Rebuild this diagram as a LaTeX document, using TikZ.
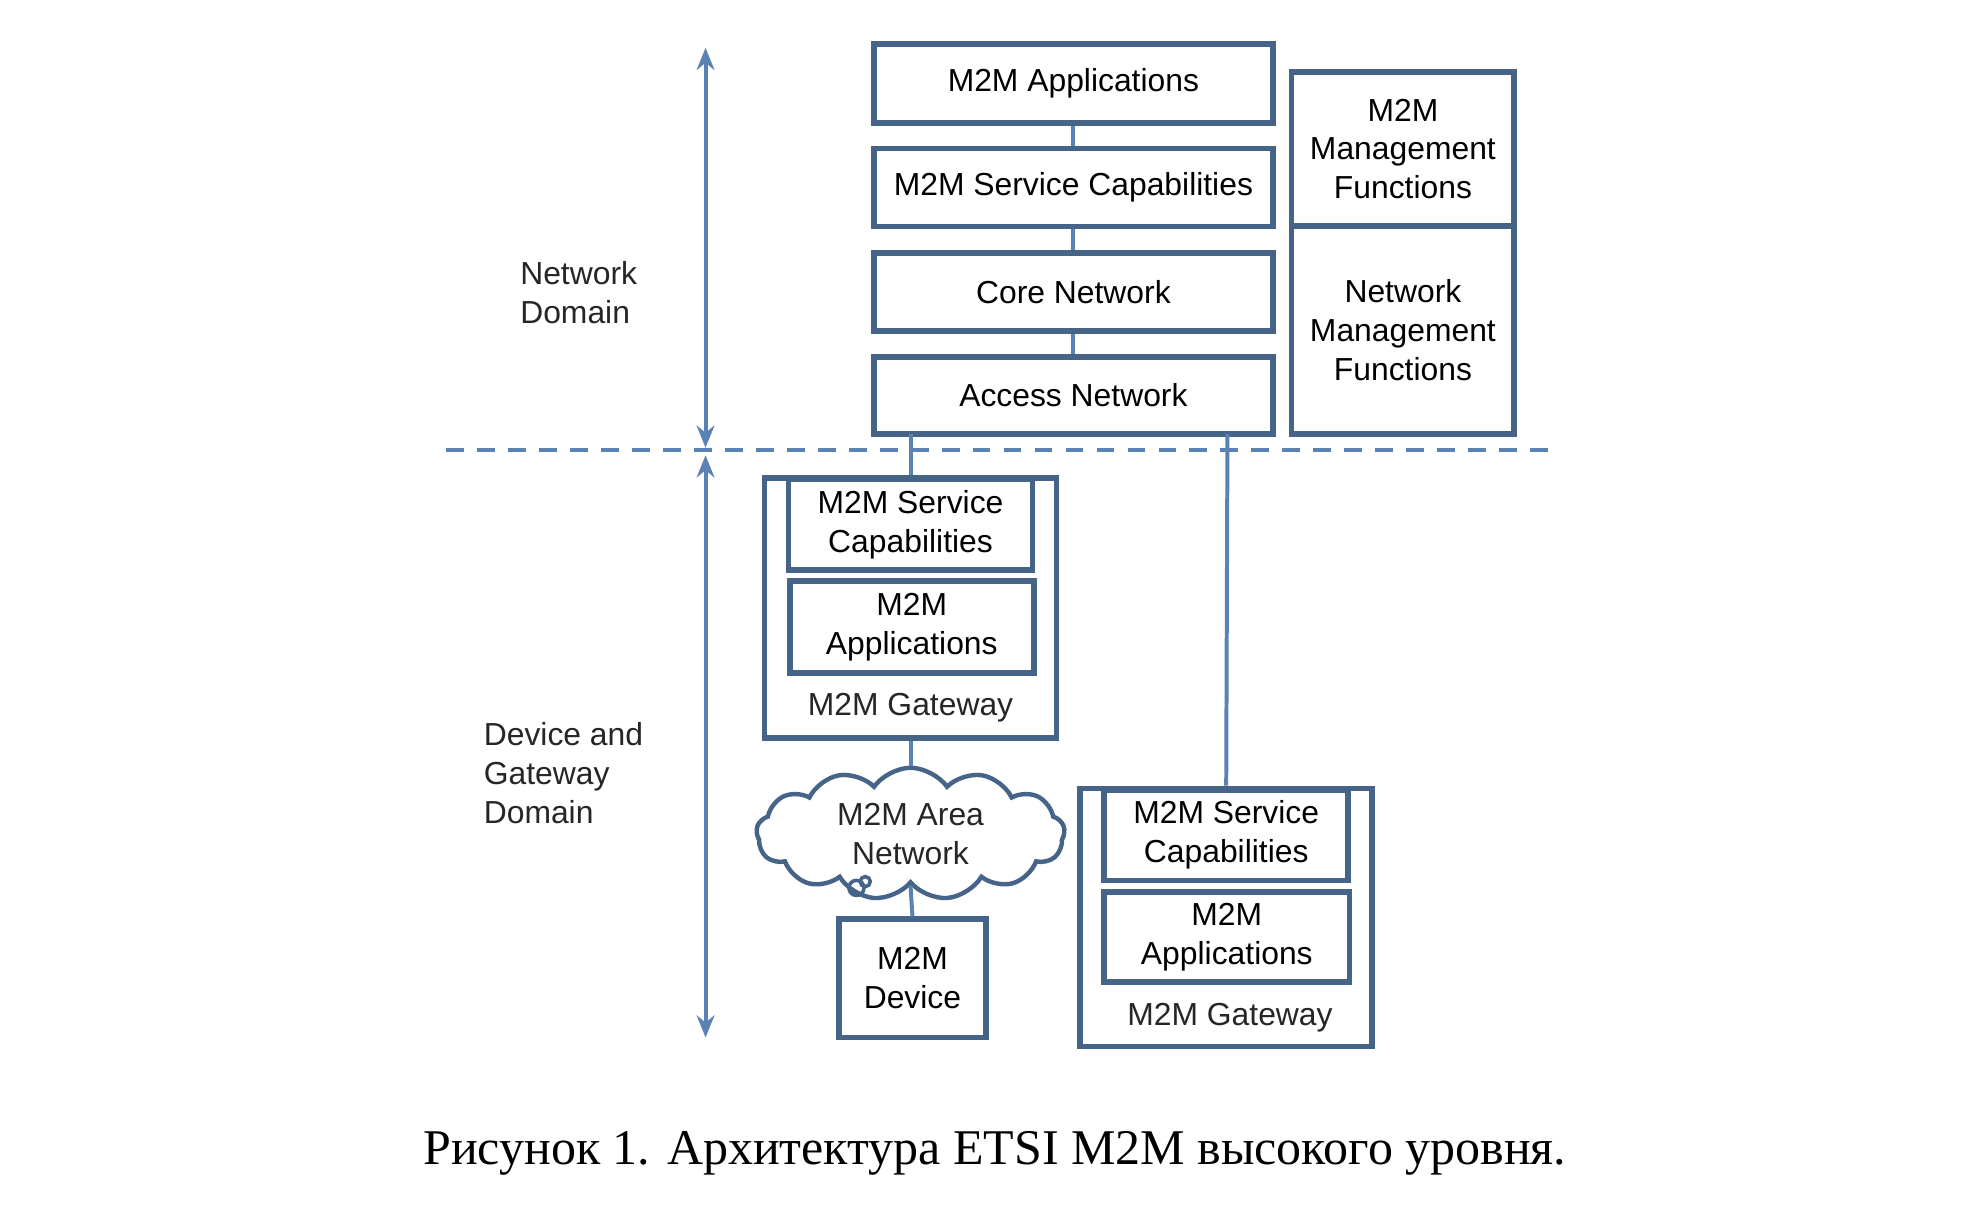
\documentclass[tikz,border=0pt]{standalone}
\usepackage{fontspec}
\setmainfont{Liberation Serif}
\newfontfamily\diag{Liberation Sans}
\usetikzlibrary{shapes.symbols,arrows.meta}
\definecolor{bx}{RGB}{70,100,135}
\definecolor{ln}{RGB}{90,130,180}
\begin{document}
\begin{tikzpicture}[x=0.01cm,y=-0.01cm,
  box/.style={draw=bx,line width=1.3pt,inner sep=0pt,font=\diag\fontsize{7.2}{8.8}\selectfont,align=center},
  txt/.style={font=\diag\fontsize{7.2}{8.8}\selectfont,text=black!85,align=center},
  con/.style={draw=ln,line width=0.9pt}]
\useasboundingbox (0,0) rectangle (1568,976);
\fill[white] (0,0) rectangle (1568,976);
% domain arrows and divider
\coordinate (a1) at (561,38); \coordinate (a2) at (561,356);
\coordinate (a3) at (561,362); \coordinate (a4) at (561,825);
\draw[con,{Stealth[length=5pt,width=4pt]}-{Stealth[length=5pt,width=4pt]}] (a1) -- (a2);
\draw[con,{Stealth[length=5pt,width=4pt]}-{Stealth[length=5pt,width=4pt]}] (a3) -- (a4);
\coordinate (d1) at (355,358); \coordinate (d2) at (1240,358);
\draw[con,dashed,dash pattern=on 4pt off 3pt] (d1) -- (d2);
\node[txt,align=left,anchor=west,inner sep=0pt] (nd) at (413,233) {Network\\Domain};
\node[txt,align=left,anchor=west,inner sep=0pt] (dd) at (384,615) {Device and\\Gateway\\Domain};
% network stack
\node[box,minimum width=3.17cm,minimum height=0.63cm] (app) at (853.5,66.5) {M2M Applications};
\node[box,minimum width=3.17cm,minimum height=0.62cm] (sc) at (853.5,149) {M2M Service Capabilities};
\node[box,minimum width=3.17cm,minimum height=0.62cm] (core) at (853.5,232) {Core Network};
\node[box,minimum width=3.17cm,minimum height=0.61cm] (acc) at (853.5,314.5) {Access Network};
\draw[con] (app) -- (sc); \draw[con] (sc) -- (core); \draw[con] (core) -- (acc);
% management
\node[box,minimum width=1.77cm,minimum height=1.23cm] (mmf) at (1115.5,118.5) {M2M\\Management\\Functions};
\node[box,minimum width=1.77cm,minimum height=1.65cm] (nmf) at (1115.5,262.5) {Network\\Management\\Functions};
% gateway 1
\node[box,minimum width=2.32cm,minimum height=2.07cm] (gw1) at (724,483.5) {};
\node[box,minimum width=1.94cm,minimum height=0.72cm] (gsc1) at (724,417) {M2M Service\\Capabilities};
\node[box,minimum width=1.94cm,minimum height=0.73cm] (gap1) at (725,498.5) {M2M\\Applications};
\node[txt] (gl1) at (724,563) {M2M Gateway};
\draw[con] (724,345) -- (gw1.north);
% cloud
\node[cloud,draw=bx,line width=1pt,cloud puffs=13,cloud puff arc=110,aspect=2.3,minimum width=2.45cm,minimum height=1.05cm,txt,inner sep=0pt] (cl) at (724,663) {M2M Area\\Network};
\draw[con] (gw1.south) -- (cl.north);
\draw[bx,line width=0.8pt] (681,706) circle (0.06cm) (688,701) circle (0.04cm);
% device
\node[box,minimum width=1.17cm,minimum height=0.94cm] (dev) at (725.5,778) {M2M\\Device};
\draw[con] (cl.south) -- (dev.north);
% gateway 2
\node[box,minimum width=2.32cm,minimum height=2.05cm] (gw2) at (975,729.5) {};
\node[box,minimum width=1.94cm,minimum height=0.72cm] (gsc2) at (975,664) {M2M Service\\Capabilities};
\node[box,minimum width=1.95cm,minimum height=0.72cm] (gap2) at (975.5,745) {M2M\\Applications};
\node[txt] (gl2) at (978,809) {M2M Gateway};
\draw[con] (976,345) -- (gw2.north);
% caption
\node[font=\fontsize{11.3}{14}\selectfont] (cap) at (791,917) {Рисунок 1. Архитектура ETSI M2M высокого уровня.};
\end{tikzpicture}
\end{document}
